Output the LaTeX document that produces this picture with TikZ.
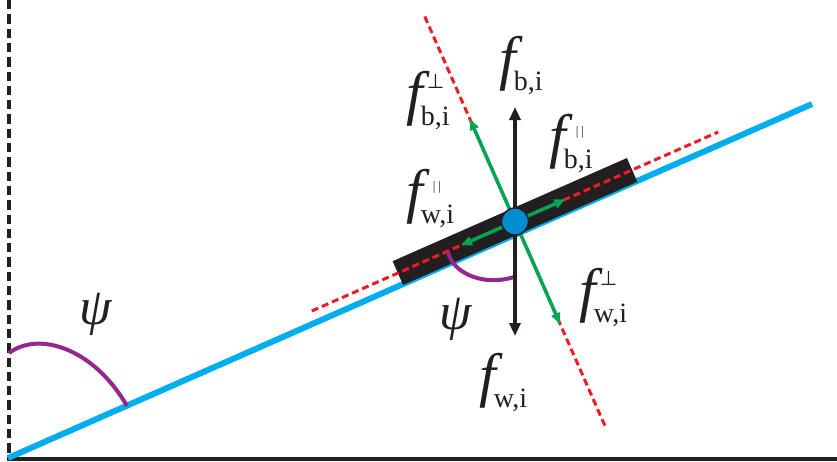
\documentclass[tikz,border=0pt]{standalone}
\usepackage{fontspec}
\setmainfont{Liberation Serif}
\newfontfamily\symfnt{DejaVu Sans}
\usetikzlibrary{arrows.meta,calc}
\definecolor{cblue}{RGB}{0,174,239}
\definecolor{cdot}{RGB}{0,140,210}
\definecolor{cgreen}{RGB}{0,166,81}
\definecolor{cred}{RGB}{237,28,36}
\definecolor{cpurple}{RGB}{146,39,143}
\definecolor{cblack}{RGB}{35,31,32}
\newcommand{\flab}[3]{{\fontsize{60}{60}\selectfont\itshape f}\kern-2pt\rlap{\hspace{#3}#2}\raisebox{-12pt}{\fontsize{28}{28}\selectfont #1}}
\newcommand{\supperp}{\raisebox{25pt}{\fontsize{20}{20}\selectfont\symfnt ⊥}}
\newcommand{\suppar}{\raisebox{21pt}{\fontsize{13}{13}\selectfont |\kern3pt|}}
\begin{document}
\begin{tikzpicture}[x=1pt,y=-1pt,
  axisdash/.style={cblack,line width=4.3pt,dash pattern=on 9.3pt off 5pt},
  axisline/.style={cblack,line width=4pt},
  blueline/.style={cblue,line width=6pt},
  barstyle/.style={rectangle,fill=cblack,draw=none,minimum width=256pt,minimum height=26pt,inner sep=0pt},
  reddash/.style={cred,line width=3pt,dash pattern=on 7pt off 4pt},
  blackarrow/.style={cblack,line width=4pt,-{Triangle[length=13pt,width=11pt]}},
  greenarrow/.style={cgreen,line width=3.5pt,-{Triangle[length=11pt,width=9pt]}},
  dotstyle/.style={circle,fill=cdot,draw=cblack,line width=1.5pt,minimum size=27pt,inner sep=0pt},
  anglearc/.style={cpurple,line width=4pt},
  flabel/.style={anchor=base west,inner sep=0pt,text=cblack},
  psilabel/.style={inner sep=0pt,text=cblack,font=\fontsize{52}{52}\selectfont\itshape}]
\useasboundingbox (0,0) rectangle (837,461);
% axes
\coordinate (Vtop) at (9,0);
\coordinate (Vbot) at (9,458);
\coordinate (Hl) at (7,458.5);
\coordinate (Hr) at (837,458.5);
\draw[axisdash] (Vtop) -- (Vbot);
\draw[axisline] (Hl) -- (Hr);
% incline
\coordinate (O) at (8,458);
\coordinate (E) at (812,104);
\draw[blueline] (O) -- (E);
% body
\coordinate (C) at (515,221.5);
\node[barstyle,rotate=23.76] (bar) at (C) {};
% red dashed axes
\coordinate (PA) at ($(C)+(-23.76:222)$);
\coordinate (PB) at ($(C)+(156.24:222)$);
\coordinate (QA) at ($(C)+(-113.76:224)$);
\coordinate (QB) at ($(C)+(66.24:224)$);
\draw[reddash] (PB) -- (PA);
\draw[reddash] (QA) -- (QB);
% angle arcs
\coordinate (a1) at (9,353);
\coordinate (a2) at (127,406);
\draw[anglearc] (a1) .. controls (40,330) and (95,350) .. (a2);
\coordinate (b1) at (448,252);
\coordinate (b2) at (514,277);
\draw[anglearc] (b1) .. controls (452,272) and (482,287) .. (b2);
% force arrows
\coordinate (BU) at (515,107);
\coordinate (BD) at (515,336);
\draw[blackarrow] (C) -- (BU);
\draw[blackarrow] (C) -- (BD);
\coordinate (GU) at ($(C)+(-113.76:112)$);
\coordinate (GD) at ($(C)+(66.24:112)$);
\coordinate (GR) at ($(C)+(-23.76:55)$);
\coordinate (GL) at ($(C)+(156.24:59)$);
\draw[greenarrow] (C) -- (GU);
\draw[greenarrow] (C) -- (GD);
\draw[greenarrow] (C) -- (GR);
\draw[greenarrow] (C) -- (GL);
\node[dotstyle] (dot) at (C) {};
% labels
\node[flabel] (fb) at (499,78) {\flab{b,i}{}{0pt}};
\node[flabel] (fbperp) at (406,113) {\flab{b,i}{\supperp}{6pt}};
\node[flabel] (fbpar) at (549,156) {\flab{b,i}{\suppar}{12pt}};
\node[flabel] (fwpar) at (406,211) {\flab{w,i}{\suppar}{12pt}};
\node[flabel] (fwperp) at (579,310) {\flab{w,i}{\supperp}{6pt}};
\node[flabel] (fw) at (479,395) {\flab{w,i}{}{0pt}};
\node[psilabel] (psiL) at (96,314) {ψ};
\node[psilabel] (psiC) at (456,319) {ψ};
\end{tikzpicture}
\end{document}
